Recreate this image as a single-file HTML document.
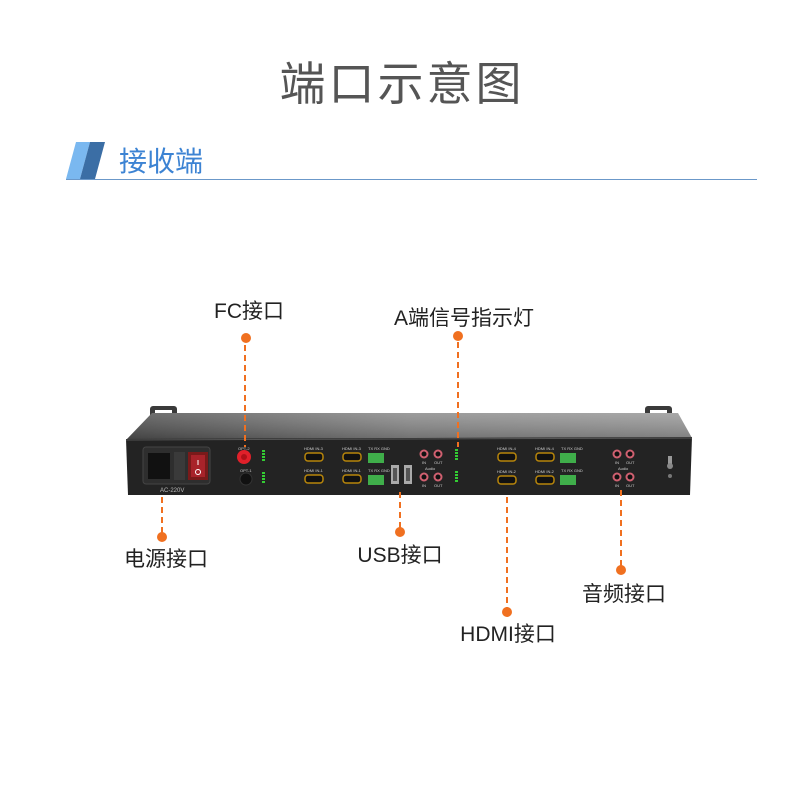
<!DOCTYPE html>
<html><head><meta charset="utf-8"><style>
body{margin:0;background:#fff;}
svg{display:block}
</style></head><body>
<svg width="800" height="800" viewBox="0 0 800 800" xmlns="http://www.w3.org/2000/svg" font-family="Liberation Sans, Noto Sans CJK SC, sans-serif">
<defs>
<linearGradient id="top" x1="0" y1="0" x2="1" y2="0">
<stop offset="0" stop-color="#505050"/><stop offset="0.5" stop-color="#8a8a8a"/><stop offset="1" stop-color="#9a9a9a"/>
</linearGradient>
<linearGradient id="topv" x1="0" y1="0" x2="0" y2="1">
<stop offset="0" stop-color="#fff" stop-opacity="0.15"/><stop offset="1" stop-color="#000" stop-opacity="0.2"/>
</linearGradient>
</defs>
<text x="402" y="100" text-anchor="middle" font-size="46" fill="#555" letter-spacing="3" font-family="Liberation Sans, Noto Sans CJK SC, sans-serif">端口示意图</text>
<polygon points="76,142 90,142 80,179 66,179" fill="#7ab8f0"/>
<polygon points="90,142 105,142 95,179 80,179" fill="#3b6ea5"/>
<text x="119" y="171" font-size="28" fill="#3c83d3">接收端</text>
<line x1="66" y1="179.5" x2="757" y2="179.5" stroke="#6b98c9" stroke-width="1"/>

<rect x="150" y="406" width="27" height="20" rx="3" fill="#3a3a3a"/>
<rect x="645" y="406" width="27" height="20" rx="3" fill="#3a3a3a"/>
<rect x="155" y="410" width="17" height="6" fill="#fff"/>
<rect x="650" y="410" width="17" height="6" fill="#fff"/>
<polygon points="152,413 678,413 692,438 126,440" fill="url(#top)"/>
<polygon points="152,413 678,413 692,438 126,440" fill="url(#topv)"/>
<polygon points="126,439 692,437 690,495 128,495" fill="#232323"/>
<line x1="126" y1="440" x2="692" y2="438" stroke="#555" stroke-width="1"/>

<rect x="143" y="447" width="67" height="37" rx="3" fill="#2e2e2e" stroke="#444"/>
<rect x="148" y="453" width="22" height="26" fill="#111"/>
<rect x="174" y="452" width="11" height="28" fill="#3a3a3a"/>
<rect x="188" y="452" width="20" height="28" fill="#7a1a1a"/>
<rect x="191" y="455" width="14" height="22" fill="#a8232a"/>
<circle cx="198" cy="472" r="2.5" fill="none" stroke="#fff" stroke-width="1"/>
<line x1="198" y1="460" x2="198" y2="465" stroke="#fff"/>
<text x="160" y="492" font-size="6" fill="#bbb">AC-220V</text>

<text x="238" y="450" font-size="4" fill="#ccc">OPT-2</text>
<circle cx="244" cy="457" r="7" fill="#e0202a"/>
<circle cx="244" cy="457" r="3" fill="#b01018"/>
<text x="240" y="472" font-size="4" fill="#ccc">OPT-1</text>
<circle cx="246" cy="479" r="6" fill="#111" stroke="#333"/>
<g fill="#3c3">
<rect x="262" y="450" width="3" height="2"/><rect x="262" y="453" width="3" height="2"/><rect x="262" y="456" width="3" height="2"/><rect x="262" y="459" width="3" height="2"/>
<rect x="262" y="472" width="3" height="2"/><rect x="262" y="475" width="3" height="2"/><rect x="262" y="478" width="3" height="2"/><rect x="262" y="481" width="3" height="2"/>
<rect x="455" y="449" width="3" height="2"/><rect x="455" y="452" width="3" height="2"/><rect x="455" y="455" width="3" height="2"/><rect x="455" y="458" width="3" height="2"/>
<rect x="455" y="471" width="3" height="2"/><rect x="455" y="474" width="3" height="2"/><rect x="455" y="477" width="3" height="2"/><rect x="455" y="480" width="3" height="2"/>
</g>

<g fill="#111" stroke="#b8860b" stroke-width="1.5">
<rect x="305" y="453" width="18" height="8" rx="3"/><rect x="343" y="453" width="18" height="8" rx="3"/>
<rect x="305" y="475" width="18" height="8" rx="3"/><rect x="343" y="475" width="18" height="8" rx="3"/>
<rect x="498" y="453" width="18" height="8" rx="3"/><rect x="536" y="453" width="18" height="8" rx="3"/>
<rect x="498" y="476" width="18" height="8" rx="3"/><rect x="536" y="476" width="18" height="8" rx="3"/>
</g>
<g font-size="4" fill="#ccc">
<text x="304" y="450">HDMI IN-3</text><text x="342" y="450">HDMI IN-3</text>
<text x="304" y="472">HDMI IN-1</text><text x="342" y="472">HDMI IN-1</text>
<text x="497" y="450">HDMI IN-4</text><text x="535" y="450">HDMI IN-4</text>
<text x="497" y="473">HDMI IN-2</text><text x="535" y="473">HDMI IN-2</text>
<text x="368" y="450">TX RX GND</text><text x="368" y="472">TX RX GND</text>
<text x="561" y="450">TX RX GND</text><text x="561" y="472">TX RX GND</text>
</g>
<g fill="#3fae4a">
<rect x="368" y="453" width="16" height="10"/><rect x="368" y="475" width="16" height="10"/>
<rect x="560" y="453" width="16" height="10"/><rect x="560" y="475" width="16" height="10"/>
</g>
<rect x="391" y="465" width="8" height="19" fill="#aaa"/><rect x="404" y="465" width="8" height="19" fill="#aaa"/>
<rect x="393" y="468" width="4" height="13" fill="#555"/><rect x="406" y="468" width="4" height="13" fill="#555"/>
<g fill="#111" stroke="#d06070" stroke-width="2">
<circle cx="424" cy="454" r="3.5"/><circle cx="438" cy="454" r="3.5"/>
<circle cx="424" cy="477" r="3.5"/><circle cx="438" cy="477" r="3.5"/>
<circle cx="617" cy="454" r="3.5"/><circle cx="630" cy="454" r="3.5"/>
<circle cx="617" cy="477" r="3.5"/><circle cx="630" cy="477" r="3.5"/>
</g>
<g font-size="4" fill="#ccc">
<text x="422" y="464">IN</text><text x="434" y="464">OUT</text><text x="425" y="470">Audio</text>
<text x="422" y="487">IN</text><text x="434" y="487">OUT</text>
<text x="615" y="464">IN</text><text x="626" y="464">OUT</text><text x="618" y="470">Audio</text>
<text x="615" y="487">IN</text><text x="626" y="487">OUT</text>
</g>
<rect x="668" y="456" width="4" height="8" fill="#999"/>
<circle cx="670" cy="466" r="3" fill="#888"/>
<circle cx="670" cy="476" r="2" fill="#777"/>

<g stroke="#f07020" stroke-width="2" stroke-dasharray="6,4" fill="none">
<line x1="245" y1="345" x2="245" y2="447"/>
<line x1="458" y1="342" x2="458" y2="447"/>
<line x1="162" y1="497" x2="162" y2="535"/>
<line x1="400" y1="492" x2="400" y2="528"/>
<line x1="507" y1="497" x2="507" y2="608"/>
<line x1="621" y1="490" x2="621" y2="566"/>
</g>
<g fill="#f07020">
<circle cx="246" cy="338" r="5"/>
<circle cx="458" cy="336" r="5"/>
<circle cx="162" cy="537" r="5"/>
<circle cx="400" cy="532" r="5"/>
<circle cx="507" cy="612" r="5"/>
<circle cx="621" cy="570" r="5"/>
</g>
<g font-size="21" fill="#222" text-anchor="middle">
<text x="249" y="318">FC接口</text>
<text x="464" y="325">A端信号指示灯</text>
<text x="166" y="566">电源接口</text>
<text x="400" y="562">USB接口</text>
<text x="508" y="641">HDMI接口</text>
<text x="624" y="601">音频接口</text>
</g>
</svg>
</body></html>
